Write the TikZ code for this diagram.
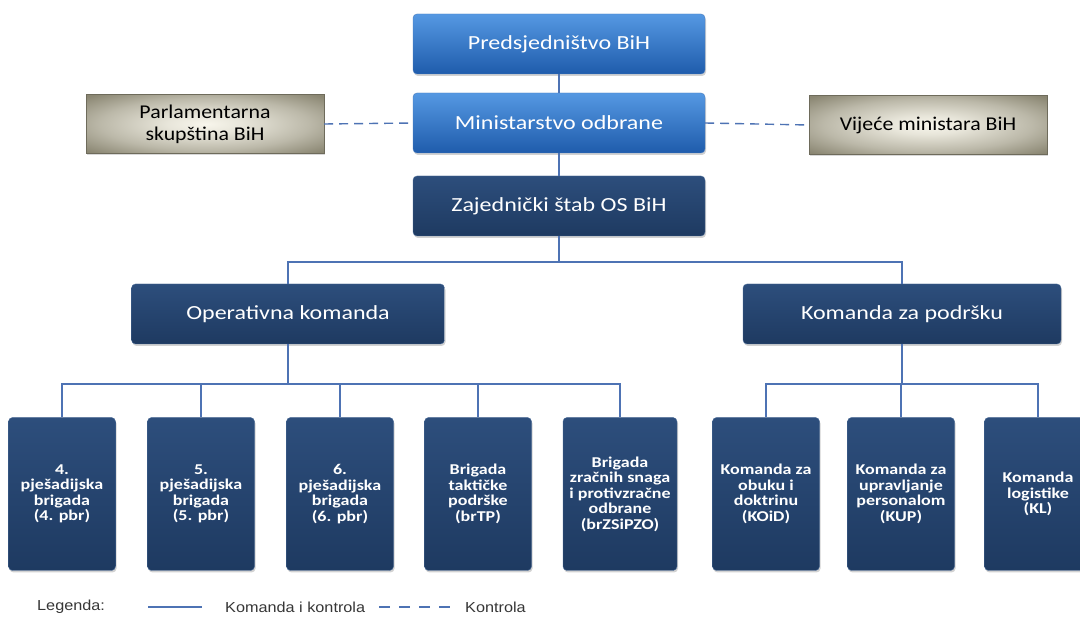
\documentclass[tikz,border=0pt]{standalone}
\usepackage{fontspec}
\setmainfont{Carlito}
\newfontfamily\boxfont[FakeStretch=1.2]{Carlito}
\newfontfamily\sidefont[FakeStretch=1.12]{Carlito}
\newfontfamily\legendfont[FakeStretch=1.12]{Liberation Sans}
\usetikzlibrary{positioning,shadows,calc}
\definecolor{topblueT}{HTML}{5598E2}
\definecolor{topblueB}{HTML}{1F5CAC}
\definecolor{navyT}{HTML}{2D4E7C}
\definecolor{navyB}{HTML}{1E3A61}
\definecolor{navyline}{HTML}{4C6D99}
\definecolor{beigeIn}{HTML}{F8F6EC}
\definecolor{beigeOut}{HTML}{8A8672}
\definecolor{linkblue}{HTML}{4E73B4}
\definecolor{legendgray}{HTML}{363636}
\pgfdeclareradialshading{beigeglow}{\pgfpoint{0bp}{0bp}}{%
  color(0bp)=(beigeIn); color(8bp)=(beigeIn!85!beigeOut);
  color(22bp)=(beigeOut!55!beigeIn); color(34bp)=(beigeOut); color(50bp)=(beigeOut)}
\tikzset{
  unit/.style = {rectangle, rounded corners=4pt, align=center, inner sep=0pt,
    text=white, drop shadow={opacity=0.35, shadow xshift=1pt, shadow yshift=-2pt}},
  topunit/.style = {unit, top color=topblueT, bottom color=topblueB, draw=topblueB!80!white,
    minimum width=292pt, minimum height=60pt, font=\boxfont\fontsize{20}{24}\selectfont},
  headunit/.style = {unit, top color=navyT, bottom color=navyB, draw=navyline,
    minimum height=60pt, font=\boxfont\fontsize{20}{24}\selectfont},
  subunit/.style = {unit, top color=navyT, bottom color=navyB, draw=navyline,
    minimum width=107pt, minimum height=153pt,
    font=\boxfont\fontsize{15}{15.5}\selectfont\bfseries},
  outside/.style = {rectangle, inner sep=0pt, align=center, text=black,
    shading=beigeglow, draw=beigeOut!80!black,
    minimum width=238pt, minimum height=59pt,
    font=\sidefont\fontsize{19.5}{22}\selectfont,
    drop shadow={opacity=0.3, shadow xshift=1pt, shadow yshift=-2pt}},
  cmd/.style = {draw=linkblue, line width=2.4pt},
  ctrl/.style = {draw=linkblue, line width=1.4pt, dash pattern=on 9pt off 6pt},
  legendtext/.style = {anchor=west, inner sep=0pt, text=legendgray,
    font=\legendfont\fontsize{14.5}{16}\selectfont}
}

\begin{document}
\begin{tikzpicture}[x=1pt,y=-1pt]
\useasboundingbox (0,0) rectangle (1080,617);
\fill[white] (0,0) rectangle (1080,617);

% top of the chain
\node [topunit]  (pres) at (559,44)   {Predsjedništvo BiH};
\node [topunit]  (mo)   at (559,123)  {Ministarstvo odbrane};
\node [headunit, minimum width=292pt] (zs) at (559,206) {Zajednički štab OS BiH};

\node [outside] (ps) at (205,124) {Parlamentarna\\skupština BiH};
\node [outside] (vm) at (928,125) {Vijeće ministara BiH};

\node [headunit, minimum width=313pt] (ok) at (288,314) {Operativna komanda};
\node [headunit, minimum width=318pt] (kp) at (902,314) {Komanda za podršku};

% brigades and commands
\node [subunit] (b1) at (62,494)  {4.\\pješadijska\\brigada\\(4. pbr)};
\node [subunit] (b2) at (201,494) {5.\\pješadijska\\brigada\\(5. pbr)};
\node [subunit] (b3) at (340,494) {6.\\pješadijska\\brigada\\(6. pbr)};
\node [subunit] (b4) at (478,494) {Brigada\\taktičke\\podrške\\(brTP)};
\node [subunit, minimum width=114pt] (b5) at (620,494) {Brigada\\zračnih snaga\\i protivzračne\\odbrane\\(brZSiPZO)};
\node [subunit] (b6) at (766,494) {Komanda za\\obuku i\\doktrinu\\(KOiD)};
\node [subunit] (b7) at (901,494) {Komanda za\\upravljanje\\personalom\\(KUP)};
\node [subunit] (b8) at (1038,494) {Komanda\\logistike\\(KL)};

\coordinate (bus1) at (559,262);
\coordinate (bus2) at (288,384);
\coordinate (bus3) at (902,384);

\draw[cmd] (pres.south) -- (mo.north);
\draw[cmd] (mo.south) -- (zs.north);
\draw[cmd] (zs.south) -- (bus1);
\draw[cmd] (ok.north) |- (bus1) -| (kp.north);
\draw[cmd] (ok.south) -- (bus2);
\draw[cmd] (kp.south) -- (bus3);
\foreach \b in {b1,b2,b3,b4,b5}
  \draw[cmd] (bus2) -| (\b.north);
\foreach \b in {b6,b7,b8}
  \draw[cmd] (bus3) -| (\b.north);

\draw[ctrl] (ps.east) -- (mo.west);
\draw[ctrl] (mo.east) -- (vm.west);

% legend
\node [legendtext] (leg) at (37,607) {Legenda:};
\coordinate (l1) at (148,607);
\coordinate (l2) at (202,607);
\draw[cmd, line width=2.2pt] (l1) -- (l2);
\node [legendtext] (lcmd) at (225,607) {Komanda i kontrola};
\coordinate (l3) at (379,607);
\coordinate (l4) at (451,607);
\draw[ctrl, dash pattern=on 11pt off 9pt] (l3) -- (l4);
\node [legendtext] (lctrl) at (465,607) {Kontrola};
\end{tikzpicture}
\end{document}
